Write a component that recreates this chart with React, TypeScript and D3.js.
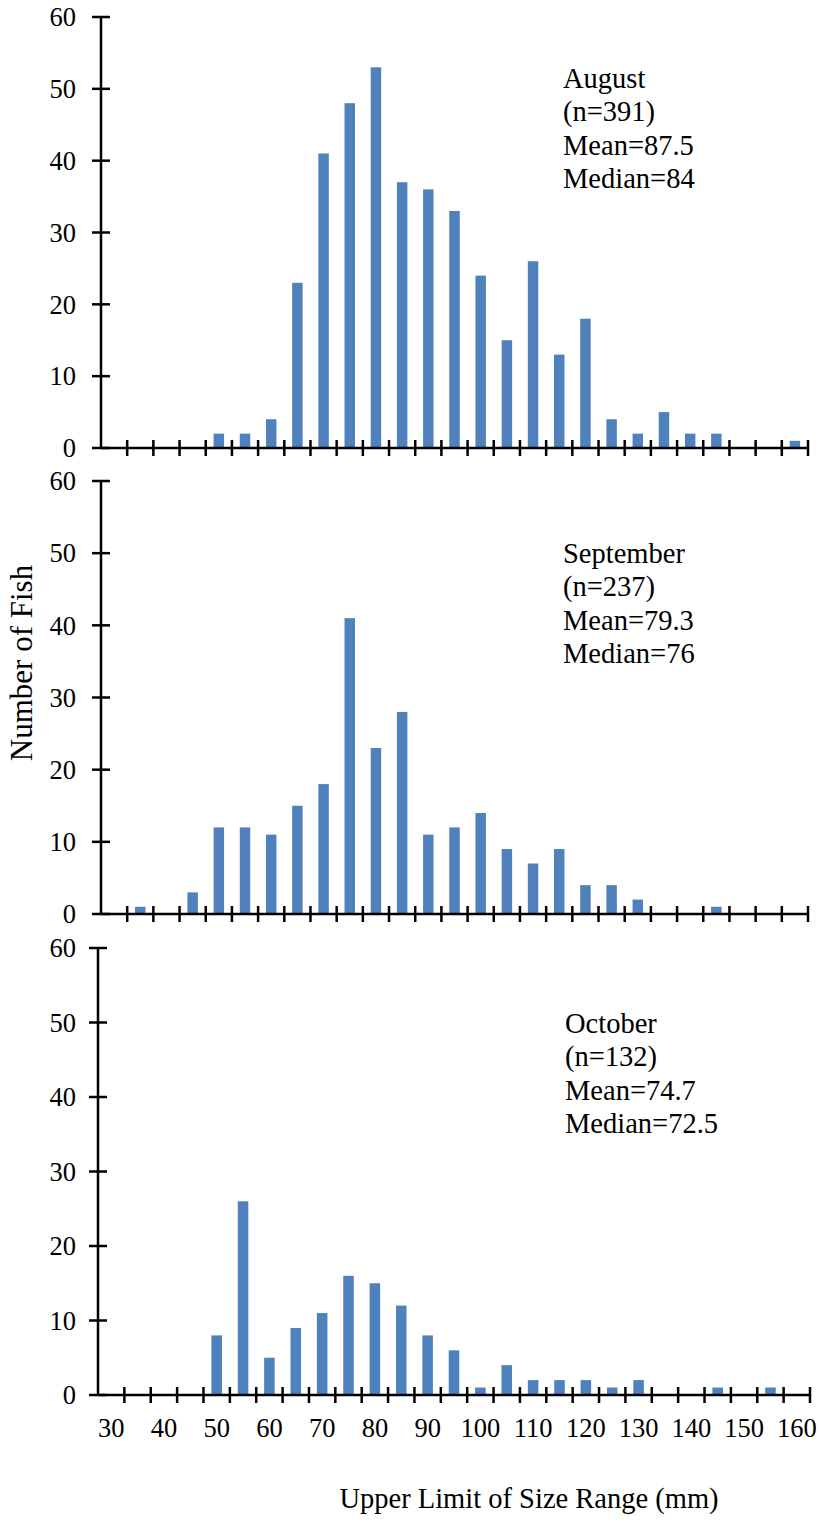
import React from "react";
import * as d3 from "d3";

const categories = [30, 35, 40, 45, 50, 55, 60, 65, 70, 75, 80, 85, 90, 95, 100, 105, 110, 115, 120, 125, 130, 135, 140, 145, 150, 155, 160];
const augustCounts = [0, 0, 0, 0, 2, 2, 4, 23, 41, 48, 53, 37, 36, 33, 24, 15, 26, 13, 18, 4, 2, 5, 2, 2, 0, 0, 1];
const septemberCounts = [0, 1, 0, 3, 12, 12, 11, 15, 18, 41, 23, 28, 11, 12, 14, 9, 7, 9, 4, 4, 2, 0, 0, 1, 0, 0, 0];
const octoberCounts = [0, 0, 0, 0, 8, 26, 5, 9, 11, 16, 15, 12, 8, 6, 1, 4, 2, 2, 2, 1, 2, 0, 0, 1, 0, 1, 0];
const xTickLabels = [30, 40, 50, 60, 70, 80, 90, 100, 110, 120, 130, 140, 150, 160];
const yTickValues = [0, 10, 20, 30, 40, 50, 60];
const monthNames = ["August", "September", "October"];
const nValues = ["(n=391)", "(n=237)", "(n=132)"];
const meanLabels = ["Mean=87.5", "Mean=79.3", "Mean=74.7"];
const medianLabels = ["Median=84", "Median=76", "Median=72.5"];

const FONT = "'Liberation Serif', 'Times New Roman', serif";
const BAR = "#4F81BD";

type PanelGeom = { x0: number; x1: number; yTop: number; yBottom: number; annX: number; annY: number };
const panels: PanelGeom[] = [
  { x0: 101, x1: 808, yTop: 17, yBottom: 448, annX: 563, annY: 88 },
  { x0: 101, x1: 808, yTop: 481, yBottom: 914, annX: 563, annY: 563 },
  { x0: 98, x1: 810, yTop: 948, yBottom: 1395, annX: 565, annY: 1033 },
];
const seriesList = [augustCounts, septemberCounts, octoberCounts];

function Panel({ g, data, idx, showLabels }: { g: PanelGeom; data: number[]; idx: number; showLabels: boolean }) {
  const x = d3.scaleBand<number>().domain(categories).range([g.x0, g.x1]).paddingInner(0).paddingOuter(0);
  const y = d3.scaleLinear().domain([0, 60]).range([g.yBottom, g.yTop]);
  const bw = x.bandwidth() * 0.4;
  const tickLen = 8;
  const boundaries = categories.map((c) => (x(c) as number) + x.bandwidth());
  const lines = [monthNames[idx], nValues[idx], meanLabels[idx], medianLabels[idx]];
  return (
    <g>
      {data.map((v, i) =>
        v > 0 ? (
          <rect
            key={i}
            x={(x(categories[i]) as number) + x.bandwidth() / 2 - bw / 2}
            y={y(v)}
            width={bw}
            height={y(0) - y(v)}
            fill={BAR}
          />
        ) : null
      )}
      {/* y axis */}
      <line x1={g.x0} x2={g.x0} y1={y(60)} y2={y(0)} stroke="#000" strokeWidth={2.5} />
      {yTickValues.map((t) => (
        <g key={t}>
          <line x1={g.x0 - 9} x2={g.x0 + 9} y1={y(t)} y2={y(t)} stroke="#000" strokeWidth={2.5} />
          <text x={76} y={y(t)} dy="0.35em" textAnchor="end" fontFamily={FONT} fontSize={26.5} fill="#000">
            {t}
          </text>
        </g>
      ))}
      {/* x axis */}
      <line x1={g.x0} x2={g.x1} y1={y(0)} y2={y(0)} stroke="#000" strokeWidth={2.5} />
      {boundaries.map((bx, i) => (
        <line key={i} x1={bx} x2={bx} y1={y(0) - tickLen} y2={y(0) + tickLen} stroke="#000" strokeWidth={2.5} />
      ))}
      {showLabels &&
        xTickLabels.map((t) => (
          <text
            key={t}
            x={(x(t) as number) + x.bandwidth() / 2}
            y={g.yBottom + 42}
            textAnchor="middle"
            fontFamily={FONT}
            fontSize={26.5}
            fill="#000"
          >
            {t}
          </text>
        ))}
      {lines.map((s, i) => (
        <text key={i} x={g.annX} y={g.annY + i * 33.3} fontFamily={FONT} fontSize={28.5} fill="#000">
          {s}
        </text>
      ))}
    </g>
  );
}

export default function App() {
  return (
    <svg
      width={820}
      height={1523}
      style={{ position: "absolute", left: 0, top: 0, background: "#fff" }}
    >
      <rect width={820} height={1523} fill="#fff" />
      {panels.map((g, i) => (
        <Panel key={i} g={g} data={seriesList[i]} idx={i} showLabels={i === 2} />
      ))}
      <text
        transform="translate(32,663) rotate(-90)"
        textAnchor="middle"
        fontFamily={FONT}
        fontSize={31}
        fill="#000"
      >
        Number of Fish
      </text>
      <text x={529} y={1508} textAnchor="middle" fontFamily={FONT} fontSize={28.5} fill="#000">
        Upper Limit of Size Range (mm)
      </text>
    </svg>
  );
}
